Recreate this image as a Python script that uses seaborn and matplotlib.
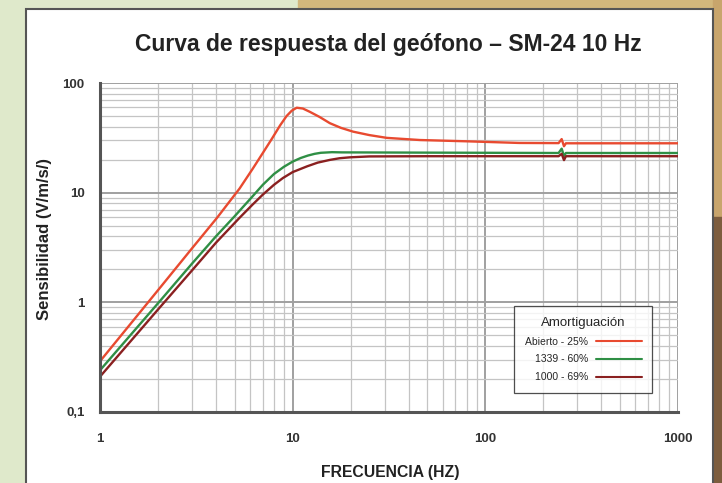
import pandas as pd
import matplotlib
matplotlib.use("Agg")
import matplotlib.pyplot as plt
import seaborn as sns
from matplotlib.patches import Rectangle

# -------------------- Data --------------------
series_names = ["Abierto - 25%", "1339 - 60%", "1000 - 69%"]
series_colors = ["#e84a30", "#2f8f45", "#8a2020"]

freq_open = [1, 2, 3, 4.05, 5.3, 6.2, 7.0, 7.8, 8.6, 9.3, 9.9, 10.5, 11.3, 12.3, 13.8,
             15.6, 17.8, 20.6, 25, 30.8, 45.8, 80, 150, 240, 249, 256, 262, 400, 1000]
sens_open = [0.29, 1.29, 3.1, 5.9, 10.9, 16.5, 23, 31, 41, 50, 56, 59.5, 58.5, 54.5, 49,
             43, 39, 36, 33.5, 31.6, 30.2, 29.4, 28.4, 28.3, 30.8, 26.5, 28.2, 28.2, 28.2]

freq_1339 = [1, 2, 3, 4, 5, 6, 7, 8, 9, 10, 11, 12, 13, 14, 16, 18, 40, 100,
             240, 249, 256, 262, 400, 1000]
sens_1339 = [0.24, 0.98, 2.25, 4.0, 6.1, 8.7, 11.8, 14.8, 17.2, 19.2, 20.7, 21.8, 22.6, 23.1,
             23.4, 23.3, 23.2, 23.1, 23.0, 25.2, 21.6, 23.0, 23.0, 23.0]

freq_1000 = [1, 2, 3, 4, 5.3, 6.2, 7, 8, 8.9, 10, 11.9, 13.5, 15.6, 17.5, 19.8, 25, 50, 100,
             240, 249, 256, 262, 400, 1000]
sens_1000 = [0.21, 0.86, 1.95, 3.5, 5.9, 7.8, 9.6, 11.8, 13.6, 15.4, 17.4, 18.8, 19.9, 20.6,
             21.0, 21.4, 21.5, 21.5, 21.5, 22.6, 19.8, 21.5, 21.5, 21.5]

x_ticks = [1, 10, 100, 1000]
x_tick_labels = ["1", "10", "100", "1000"]
y_ticks = [0.1, 1, 10, 100]
y_tick_labels = ["0,1", "1", "10", "100"]

# -------------------- Long-form table for seaborn --------------------
frames = []
for name, f, s in zip(series_names, [freq_open, freq_1339, freq_1000],
                      [sens_open, sens_1339, sens_1000]):
    frames.append(pd.DataFrame({"f": f, "s": s, "serie": name}))
df = pd.concat(frames, ignore_index=True)

sns.set_style("white")
plt.rcParams["font.family"] = ["Liberation Sans", "DejaVu Sans"]

fig = plt.figure(figsize=(7.22, 4.83), dpi=100)
fig.patch.set_facecolor("#dfe9cb")

# background decoration (green left, tan top right, brown right edge)
fig.patches.append(Rectangle((298 / 722, 1 - 9 / 483), 1, 9 / 483, transform=fig.transFigure,
                             color="#d2b77c", zorder=-3))
fig.patches.append(Rectangle((713 / 722, 0.55), 9 / 722, 0.45, transform=fig.transFigure,
                             color="#c8a56c", zorder=-3))
fig.patches.append(Rectangle((713 / 722, 0), 9 / 722, 0.55, transform=fig.transFigure,
                             color="#7d5d3e", zorder=-3))
# white panel
fig.patches.append(Rectangle((26 / 722, -0.02), 687 / 722, 1.02 - 9 / 483,
                             transform=fig.transFigure, facecolor="white",
                             edgecolor="#555555", lw=1.5, zorder=-2))

ax = fig.add_axes([100 / 722, 1 - 412 / 483, 578 / 722, 329 / 483])
ax.set_facecolor("none")
ax.set_zorder(2)

sns.lineplot(data=df, x="f", y="s", hue="serie", palette=series_colors,
             estimator=None, sort=False, lw=1.7, ax=ax)

ax.set_xscale("log")
ax.set_yscale("log")
ax.set_xlim(1, 1000)
ax.set_ylim(0.1, 100)

ax.set_xticks(x_ticks)
ax.set_xticklabels(x_tick_labels, fontsize=9.5, fontweight="bold", color="#333333")
ax.set_yticks(y_ticks)
ax.set_yticklabels(y_tick_labels, fontsize=9.5, fontweight="bold", color="#333333")
ax.tick_params(axis="x", which="major", length=3, width=1.5, color="#444444", pad=12)
ax.tick_params(axis="y", which="major", length=3, width=1.5, color="#444444", pad=8)
ax.tick_params(axis="both", which="minor", length=0)

ax.grid(True, which="major", color="#a0a0a0", lw=1.4)
ax.grid(True, which="minor", color="#c4c4c4", lw=0.9)

for side in ["top", "right"]:
    ax.spines[side].set_visible(False)
for side in ["left", "bottom"]:
    ax.spines[side].set_color("#555555")
    ax.spines[side].set_linewidth(2.2)

ax.set_xlabel("")
ax.set_ylabel("")

fig.text(388 / 722, 1 - 44 / 483, "Curva de respuesta del geófono – SM-24 10 Hz",
         ha="center", va="center", fontsize=16.5, fontweight="bold", color="#222222")
fig.text(45 / 722, 1 - 239 / 483, "Sensibilidad (V/m/s/)", rotation=90,
         ha="center", va="center", fontsize=12, fontweight="bold", color="#222222")
fig.text(390 / 722, 1 - 472 / 483, "FRECUENCIA (HZ)", ha="center", va="center",
         fontsize=11.3, fontweight="bold", color="#222222")

leg = ax.legend(title="Amortiguación", loc="upper left", bbox_to_anchor=(0.708, 0.337),
                markerfirst=False, fontsize=7.5, title_fontsize=9.5, frameon=True,
                fancybox=False, edgecolor="#222222", handlelength=4.4,
                borderpad=1.0, labelspacing=0.75)
leg.get_frame().set_linewidth(0.9)
for line in leg.get_lines():
    line.set_linewidth(1.5)

fig.savefig("out.png", dpi=100, facecolor=fig.get_facecolor())
